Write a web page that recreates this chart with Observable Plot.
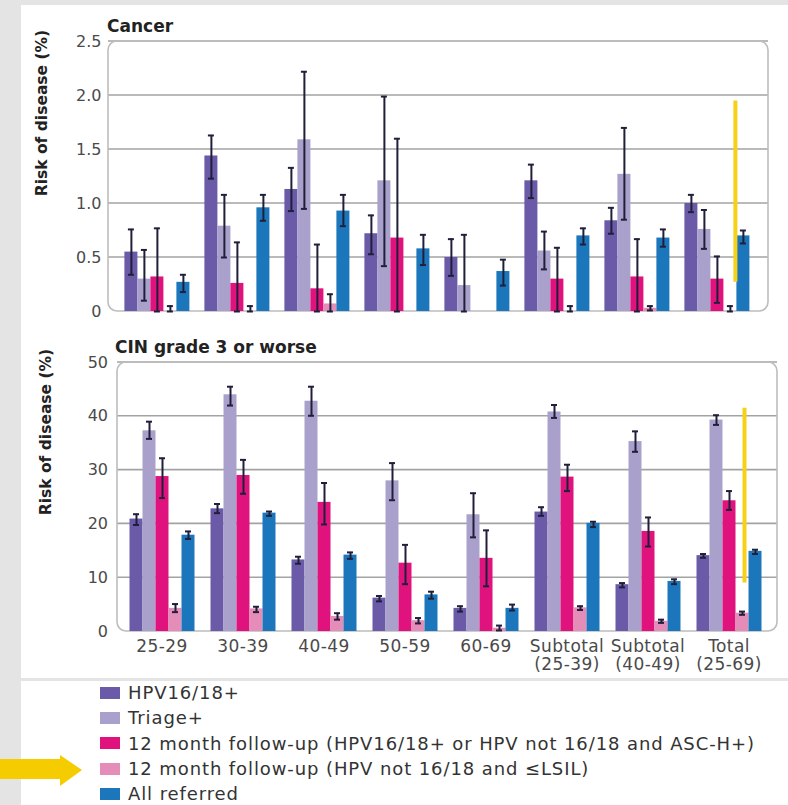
<!DOCTYPE html>
<html><head><meta charset="utf-8">
<script src="https://cdn.jsdelivr.net/npm/d3@7"></script>
<script src="https://cdn.jsdelivr.net/npm/@observablehq/plot@0.6"></script>
<style>
html,body{margin:0;padding:0;}
body{width:788px;height:805px;background:#e4e4e4;position:relative;overflow:hidden;font-family:"DejaVu Sans",sans-serif;}
.panel{position:absolute;background:#fff;}
.abs{position:absolute;}
.title{font-weight:bold;font-size:17px;line-height:1;color:#222;white-space:nowrap;}
.ylab{font-weight:bold;font-size:15.5px;line-height:1;color:#222;white-space:nowrap;transform:translate(-50%,-50%) rotate(-90deg);}
#legend{position:absolute;left:100px;top:680px;font-size:18px;letter-spacing:0.9px;color:#333;}
.row{display:flex;align-items:center;height:25.3px;white-space:nowrap;}
.sw{width:20px;height:12px;margin-right:8px;flex:none;}
#c2 svg g[aria-label^="fx-axis"] text{letter-spacing:0.4px;}
</style></head><body>
<div class="panel" style="left:21px;top:5px;width:767px;height:673px"></div>
<div class="panel" style="left:21px;top:681px;width:767px;height:124px"></div>
<div id="c1" class="abs" style="left:0;top:0"></div>
<div id="c2" class="abs" style="left:0;top:330px"></div>
<div class="abs title" style="left:107px;top:18px">Cancer</div>
<div class="abs title" style="left:115px;top:339px">CIN grade 3 or worse</div>
<div class="abs ylab" style="left:43px;top:113px">Risk of disease (%)</div>
<div class="abs ylab" style="left:47px;top:432px">Risk of disease (%)</div>
<div id="legend"></div>
<svg class="abs" style="left:0;top:750px" width="90" height="40"><polygon points="0,9 60,9 60,5 82,20 60,36 60,29 0,29" fill="#f5cc00"/></svg>
<script>
const groups = ["25-29","30-39","40-49","50-59","60-69","Sub25-39","Sub40-49","Total"];
const groupLabels = ["25-29","30-39","40-49","50-59","60-69","Subtotal\n(25-39)","Subtotal\n(40-49)","Total\n(25-69)"];
const series = ["HPV16/18+","Triage+","12 month follow-up (HPV16/18+ or HPV not 16/18 and ASC-H+)","12 month follow-up (HPV not 16/18 and \u2264LSIL)","All referred"];
const colors = ["#6a5aa8","#a9a1cc","#e0137e","#e58db9","#1c76bc"];

// [value, lower CI, upper CI] per group
const cancerHPV    = [[0.55,0.34,0.76],[1.44,1.23,1.63],[1.13,0.93,1.33],[0.72,0.53,0.89],[0.50,0.33,0.67],[1.21,1.05,1.36],[0.84,0.72,0.96],[1.00,0.92,1.08]];
const cancerTriage = [[0.30,0.10,0.57],[0.79,0.50,1.08],[1.59,0.95,2.22],[1.21,0.42,1.99],[0.24,0.00,0.71],[0.56,0.39,0.74],[1.27,0.85,1.70],[0.76,0.58,0.94]];
const cancerFU1    = [[0.32,0,0.77],[0.26,0,0.64],[0.21,0,0.62],[0.68,0,1.60],null,[0.30,0,0.59],[0.32,0,0.67],[0.30,0.08,0.51]];
const cancerFU2    = [[0,0,0.05],[0,0,0.05],[0.07,0,0.16],null,null,[0,0,0.05],[0.03,0.01,0.05],[0,0,0.05]];
const cancerAll    = [[0.27,0.18,0.34],[0.96,0.84,1.08],[0.93,0.79,1.08],[0.58,0.43,0.71],[0.37,0.24,0.48],[0.70,0.62,0.77],[0.68,0.60,0.76],[0.70,0.63,0.75]];

const cinHPV    = [[20.9,19.8,21.8],[22.8,22.0,23.7],[13.3,12.6,13.9],[6.2,5.6,6.6],[4.3,3.7,4.7],[22.2,21.5,23.1],[8.7,8.2,9.0],[14.1,13.7,14.4]];
const cinTriage = [[37.3,35.8,39.0],[44.0,42.0,45.5],[42.8,40.1,45.5],[28.0,24.4,31.3],[21.7,17.5,25.7],[40.8,39.7,42.1],[35.3,33.4,37.2],[39.3,38.4,40.2]];
const cinFU1    = [[28.8,24.8,32.2],[29.0,25.6,31.9],[24.0,19.9,27.6],[12.7,8.8,16.1],[13.6,8.4,18.8],[28.7,26.1,31.0],[18.6,15.8,21.2],[24.3,22.6,26.1]];
const cinFU2    = [[4.3,3.6,5.1],[4.2,3.6,4.6],[2.8,2.2,3.4],[2.0,1.5,2.5],[0.6,0.2,1.1],[4.4,4.0,4.7],[1.9,1.6,2.2],[3.4,3.1,3.7]];
const cinAll    = [[17.9,17.2,18.6],[22.0,21.5,22.3],[14.2,13.5,14.7],[6.8,6.1,7.4],[4.3,3.9,5.0],[20.1,19.4,20.4],[9.3,8.8,9.7],[14.9,14.4,15.2]];

const cancerTicks = [0,0.5,1.0,1.5,2.0,2.5];
const cinTicks = [0,10,20,30,40,50];
// yellow highlight line (from, to) in the Total group
const cancerHighlight = [1.95, 0.27];
const cinHighlight = [41.5, 9.0];

function rows(arrays){
  const out = [];
  groups.forEach((g,i) => series.forEach((s,j) => {
    const t = arrays[j][i];
    if (t) out.push({group:g, series:s, value:t[0], lo:t[1], hi:t[2]});
  }));
  return out;
}

function panel(o){
  const data = rows(o.arrays);
  const ink = "#1f1f3a";
  const marks = [
    Plot.barY(data, {fx:"group", x:"series", y:"value", fill:"series"}),
    Plot.ruleX(data, {fx:"group", x:"series", y1:"lo", y2:"hi", stroke:ink, strokeWidth:2}),
    Plot.tickY(data, {fx:"group", x:"series", y:"lo", stroke:ink, strokeWidth:2, insetLeft:3.5, insetRight:3.5}),
    Plot.tickY(data, {fx:"group", x:"series", y:"hi", stroke:ink, strokeWidth:2, insetLeft:3.5, insetRight:3.5}),
    Plot.ruleX([{group:"Total", series:"All referred", y1:o.hl[0], y2:o.hl[1]}],
      {fx:"group", x:"series", y1:"y1", y2:"y2", stroke:"#f7d117", strokeWidth:4, dx:o.hlDx})
  ];
  if (o.showFx) marks.push(Plot.axisFx({anchor:"bottom", tickSize:0, tickPadding:7, fontSize:17, lineHeight:1.1,
    tickFormat: d => groupLabels[groups.indexOf(d)], label:null}));
  const chart = Plot.plot({
    width: 788, height: o.height,
    marginLeft: o.mL, marginRight: o.mR, marginTop: o.mT, marginBottom: o.mB,
    style: {fontFamily:"DejaVu Sans", fontSize:"16px", color:"#4a4a4a", background:"transparent", overflow:"visible"},
    fx: {domain: groups, padding: 0, axis: o.showFx ? undefined : null, label: null},
    x: {domain: series, paddingInner: 0, paddingOuter: 0.56, axis: null},
    y: {domain: [o.ticks[0], o.ticks[o.ticks.length-1]], ticks: o.ticks, tickFormat: o.fmt, tickSize: 0, tickPadding: o.tp, label: null},
    color: {domain: series, range: colors},
    marks
  });
  // frame and gridlines behind the bars, positioned from the plot's own scales
  const fx = chart.scale("fx"), y = chart.scale("y");
  const x0 = fx.range[0] - o.fL, x1 = fx.range[1] + o.fR;
  const svg = d3.select(chart.tagName === "svg" ? chart : chart.querySelector("svg"));
  const g = svg.insert("g", ":first-child");
  o.ticks.slice(1).forEach(t => {
    g.append("line").attr("x1", x0).attr("x2", x1).attr("y1", y.apply(t)).attr("y2", y.apply(t))
      .attr("stroke", "#a3a3a3").attr("stroke-width", 1.6);
  });
  const yt = y.apply(o.ticks[o.ticks.length-1]), yb = y.apply(o.ticks[0]);
  g.append("rect").attr("x", x0).attr("y", yt).attr("width", x1 - x0).attr("height", yb - yt)
    .attr("rx", 9).attr("fill", "none").attr("stroke", "#bdbdbd").attr("stroke-width", 1.6);
  return chart;
}

document.getElementById("c1").append(panel({
  arrays:[cancerHPV,cancerTriage,cancerFU1,cancerFU2,cancerAll], ticks:cancerTicks,
  fmt: d => d === 0 ? "0" : d.toFixed(1), height:325, mL:113.6, mR:27.5, mT:41, mB:14, tp:16,
  showFx:false, hl:cancerHighlight, hlDx:-8, fL:5.6, fR:7.5
}));
document.getElementById("c2").append(panel({
  arrays:[cinHPV,cinTriage,cinFU1,cinFU2,cinAll], ticks:cinTicks,
  fmt: d => String(d), height:350, mL:120.5, mR:19.5, mT:32, mB:49, tp:13.5,
  showFx:true, hl:cinHighlight, hlDx:-11, fL:3.5, fR:8.5
}));

const legend = document.getElementById("legend");
series.forEach((s,i) => {
  const r = document.createElement("div"); r.className = "row";
  const sw = document.createElement("span"); sw.className = "sw"; sw.style.background = colors[i];
  const t = document.createElement("span"); t.textContent = s;
  r.append(sw, t); legend.append(r);
});
</script>
</body></html>
